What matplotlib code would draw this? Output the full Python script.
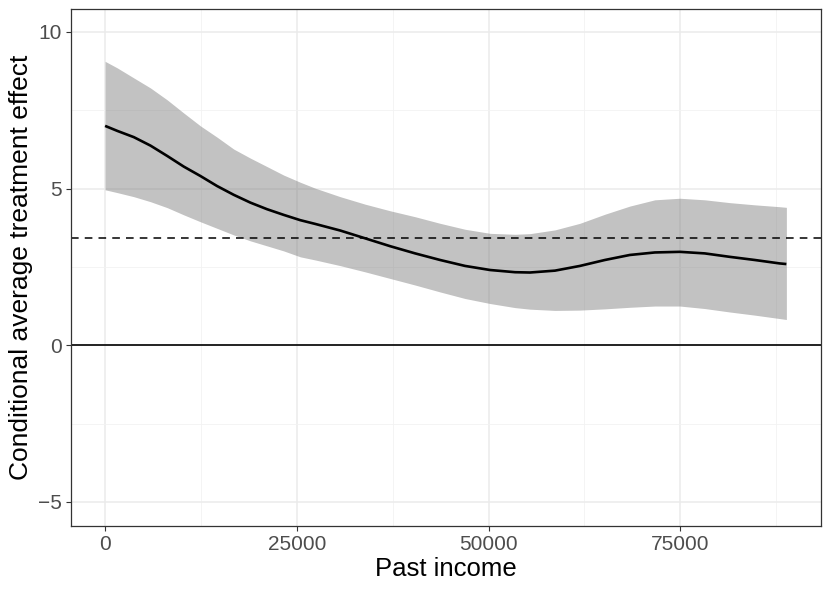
import matplotlib
matplotlib.use("Agg")
import matplotlib.pyplot as plt
from matplotlib.ticker import MultipleLocator

plt.rcParams['font.family'] = ['Liberation Sans', 'DejaVu Sans']

income = [0, 1590, 3750, 5920, 8100, 10260, 12430, 14600, 16770, 18950,
          21120, 23280, 25460, 27410, 30660, 33920, 37170, 40430, 43680,
          46940, 50200, 53450, 55400, 58660, 61910, 65170, 68420, 71680,
          74940, 78190, 81450, 84700, 87960, 88830]
cate = [7.00, 6.84, 6.64, 6.37, 6.04, 5.70, 5.40, 5.08, 4.80, 4.55,
        4.34, 4.16, 3.99, 3.87, 3.66, 3.41, 3.16, 2.93, 2.72,
        2.53, 2.40, 2.33, 2.32, 2.38, 2.53, 2.72, 2.88, 2.96,
        2.98, 2.93, 2.82, 2.72, 2.61, 2.59]
upper = [9.06, 8.85, 8.53, 8.21, 7.83, 7.41, 7.00, 6.64, 6.26, 5.97,
         5.70, 5.43, 5.20, 5.01, 4.74, 4.50, 4.29, 4.10, 3.89,
         3.70, 3.57, 3.54, 3.56, 3.68, 3.89, 4.18, 4.44, 4.64,
         4.69, 4.64, 4.55, 4.48, 4.42, 4.40]
lower = [4.96, 4.87, 4.74, 4.58, 4.39, 4.16, 3.94, 3.73, 3.52, 3.33,
         3.17, 3.01, 2.82, 2.72, 2.54, 2.34, 2.13, 1.92, 1.70,
         1.49, 1.33, 1.20, 1.15, 1.11, 1.12, 1.16, 1.21, 1.25,
         1.25, 1.17, 1.06, 0.96, 0.85, 0.82]
ate = 3.41
x_ticks = [0, 25000, 50000, 75000]
y_ticks = [-5, 0, 5, 10]
y_tick_labels = ['\u22125', '0', '5', '10']

fig = plt.figure(figsize=(8.3, 5.93), dpi=100)
ax = fig.add_axes([71/830, 67/593, 750/830, 517/593])

ax.set_xlim(-4445, 93345)
ax.set_ylim(-5.77, 10.73)

ax.set_xticks(x_ticks)
ax.set_yticks(y_ticks)
ax.set_yticklabels(y_tick_labels)
ax.xaxis.set_minor_locator(MultipleLocator(12500))
ax.yaxis.set_minor_locator(MultipleLocator(2.5))
ax.set_axisbelow(True)
ax.grid(which='major', color='#EBEBEB', linewidth=1.1)
ax.grid(which='minor', color='#F2F2F2', linewidth=0.6)
ax.tick_params(which='minor', length=0)
ax.tick_params(which='major', length=3.5, width=0.8, color='#333333',
               labelsize=15, labelcolor='#4D4D4D', pad=3)
for s in ax.spines.values():
    s.set_color('#333333')
    s.set_linewidth(0.9)

ax.fill_between(income, lower, upper, color='#808080', alpha=0.48, linewidth=0)
ax.axhline(0, color='black', linewidth=1.2)
ax.axhline(ate, color='black', linewidth=1.1, linestyle=(0, (5, 4)))
ax.plot(income, cate, color='black', linewidth=1.9, solid_capstyle='butt')

ax.set_xlabel('Past income', fontsize=18.5, labelpad=2)
ax.set_ylabel('Conditional average treatment effect', fontsize=19, labelpad=4)

fig.savefig('out.png', dpi=100)
